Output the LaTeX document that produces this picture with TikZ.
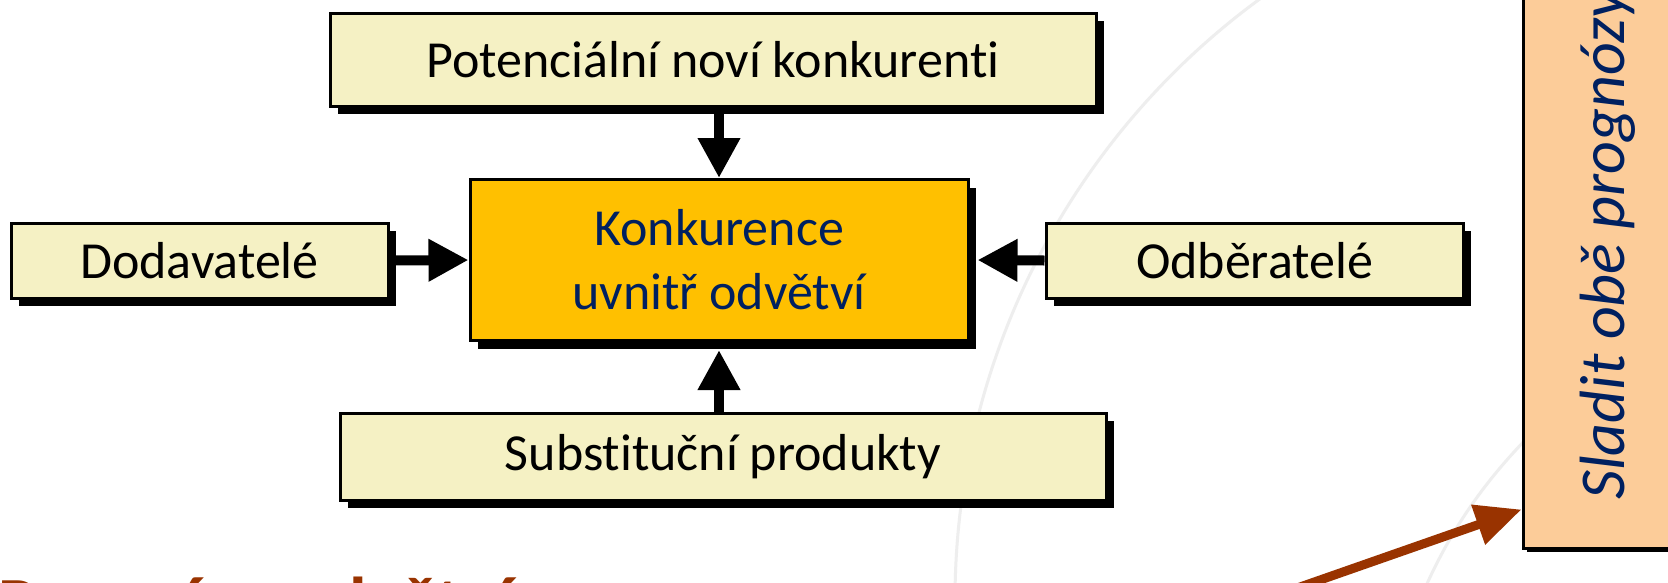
\documentclass[tikz,border=0pt]{standalone}
\usepackage{fontspec}
\setmainfont{Carlito}[Ligatures=NoCommon]
\usetikzlibrary{arrows.meta,shadows,calc}

\definecolor{forcefill}{RGB}{245,241,196}
\definecolor{corefill}{RGB}{255,192,0}
\definecolor{notefill}{RGB}{252,204,153}
\definecolor{navytext}{RGB}{0,32,96}
\definecolor{rust}{RGB}{153,51,0}
\definecolor{ghost}{RGB}{238,238,238}

\tikzset{
  boxshadow/.style={drop shadow={shadow xshift=8pt,shadow yshift=-8pt,fill=black,opacity=1}},
  forcebox/.style={draw=black,line width=3pt,fill=forcefill,inner sep=0pt,
    boxshadow,font=\fontsize{52}{62}\selectfont,text=black},
  corebox/.style={draw=black,line width=3pt,fill=corefill,inner sep=0pt,
    boxshadow,font=\fontsize{52}{64}\selectfont,text=navytext,align=center},
  notebox/.style={draw=black,line width=3pt,fill=notefill,inner sep=0pt,
    drop shadow={shadow xshift=4pt,shadow yshift=-4pt,fill=black,opacity=1}},
  force/.style={line width=10pt,-{Triangle[length=40pt,width=40pt]}},
  pointer/.style={draw=rust,line width=9pt,-{Triangle[length=46pt,width=40pt]}},
  ghostarc/.style={draw=ghost,line width=3pt}
}

\begin{document}
\begin{tikzpicture}[x=1pt,y=-1pt]
\useasboundingbox (0,0) rectangle (1668,582);
\clip (0,0) rectangle (1668,582);
\fill[white] (0,0) rectangle (1668,582);

% faint background arcs
\draw[ghostarc] (1700,600) ++(236:745) arc[start angle=236,end angle=176,radius=745];
\draw[ghostarc] (1535,430) .. controls (1485,480) and (1450,530) .. (1422,595);

% the five forces
\node[forcebox,minimum width=766pt,minimum height=93pt] (entrants) at (713,59.5) {Potenciální noví konkurenti};
\node[corebox,minimum width=498pt,minimum height=161pt] (rivalry) at (719,260) {Konkurence\\uvnitř odvětví};
\node[forcebox,minimum width=377pt,minimum height=75pt] (suppliers) at (199.5,260.5) {Dodavatelé};
\node[forcebox,minimum width=417pt,minimum height=75pt] (buyers) at (1254.5,260.5) {Odběratelé};
\node[forcebox,minimum width=766pt,minimum height=87pt] (substitutes) at (723,456.5) {Substituční produkty};

\draw[force] (entrants.south -| rivalry.north) -- (rivalry.north);
\draw[force] (suppliers.east) -- (rivalry.west);
\draw[force] (buyers.west) -- ([xshift=8pt]rivalry.east);
\draw[force] (substitutes.north -| rivalry.south) -- ([yshift=-8pt]rivalry.south);

% side note
\node[notebox,minimum width=177pt,minimum height=568pt] (note) at (1611.5,264) {};
\node[rotate=90,anchor=base west,inner sep=0pt,text=navytext,
      font=\fontsize{64}{70}\selectfont\itshape] (notetext) at (1624,500) {Sladit obě prognózy};

% heading along the lower edge and its pointer
\node[anchor=base west,inner sep=0pt,text=rust,
      font=\fontsize{72}{80}\selectfont\bfseries] (heading) at (-2,627) {Prognóza odvětví};
\coordinate (tail) at (1240,608);
\draw[pointer] (tail) -- ([yshift=40pt]note.south west);
\end{tikzpicture}
\end{document}
